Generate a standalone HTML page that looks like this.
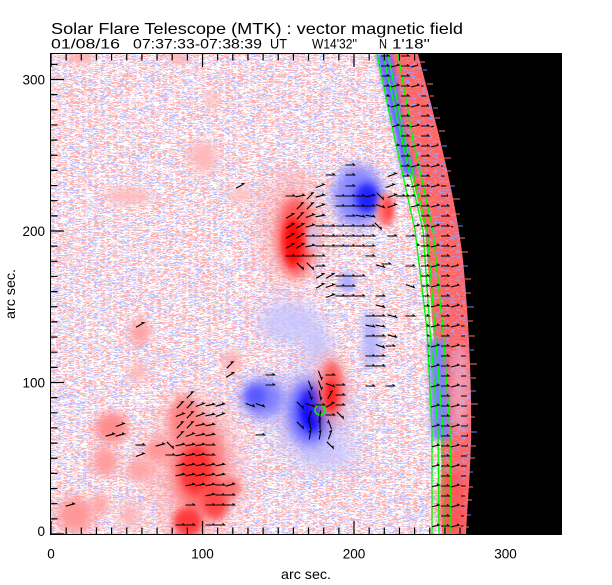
<!DOCTYPE html>
<html><head><meta charset="utf-8"><style>
html,body{margin:0;padding:0;background:#fff;}
svg{display:block;font-family:"Liberation Sans",sans-serif;}
</style></head><body>
<svg width="612" height="585" viewBox="0 0 612 585" xmlns="http://www.w3.org/2000/svg" xmlns:xlink="http://www.w3.org/1999/xlink">
<defs>
<filter id="spk" x="51" y="54" width="511" height="480" filterUnits="userSpaceOnUse" color-interpolation-filters="sRGB">
<feTurbulence type="fractalNoise" baseFrequency="0.16 0.85" numOctaves="2" seed="7"/>
<feColorMatrix type="matrix" values="1 0 0 0 0 1 0 0 0 0 1 0 0 0 0 0 0 0 0 1"/>
<feComponentTransfer>
<feFuncR type="discrete" tableValues="0.74 0.74 0.74 0.74 0.74 0.74 0.74 0.74 0.74 0.74 1 1 1 1 1 1 1 1 1 1 1 1 1 1 1"/>
<feFuncG type="discrete" tableValues="0.74 0.74 0.74 0.74 0.74 0.74 0.74 0.74 0.74 0.74 1 1 1 1 0.7 0.7 0.7 0.7 0.7 0.7 0.7 0.7 0.7 0.7 0.7"/>
<feFuncB type="discrete" tableValues="1 1 1 1 1 1 1 1 1 1 1 1 1 1 0.7 0.7 0.7 0.7 0.7 0.7 0.7 0.7 0.7 0.7 0.7"/>
</feComponentTransfer>
</filter>
<filter id="spkR" x="370" y="54" width="120" height="480" filterUnits="userSpaceOnUse" color-interpolation-filters="sRGB">
<feTurbulence type="fractalNoise" baseFrequency="0.18 0.8" numOctaves="2" seed="3"/>
<feColorMatrix type="matrix" values="1 0 0 0 0 1 0 0 0 0 1 0 0 0 0 0 0 0 0 1"/>
<feComponentTransfer>
<feFuncR type="discrete" tableValues="0.6 0.6 0.6 0.6 0.6 0.6 0.6 0.6 0.6 1 1 1 1 1 1 1 1 1 1 1 1 1 1 1 1"/>
<feFuncG type="discrete" tableValues="0.6 0.6 0.6 0.6 0.6 0.6 0.6 0.6 0.6 0.55 0.4 0.4 0.4 0.4 0.4 0.4 0.4 0.4 0.4 0.4 0.4 0.4 0.4 0.4 0.4"/>
<feFuncB type="discrete" tableValues="1 1 1 1 1 1 1 1 1 0.55 0.4 0.4 0.4 0.4 0.4 0.4 0.4 0.4 0.4 0.4 0.4 0.4 0.4 0.4 0.4"/>
</feComponentTransfer>
</filter>
<filter id="f2" x="-50%" y="-50%" width="200%" height="200%"><feGaussianBlur stdDeviation="2"/></filter>
<filter id="f3" x="-50%" y="-50%" width="200%" height="200%"><feGaussianBlur stdDeviation="3"/></filter>
<filter id="f4" x="-50%" y="-50%" width="200%" height="200%"><feGaussianBlur stdDeviation="4"/></filter>
<filter id="f5" x="-50%" y="-50%" width="200%" height="200%"><feGaussianBlur stdDeviation="5"/></filter>
<filter id="f6" x="-50%" y="-50%" width="200%" height="200%"><feGaussianBlur stdDeviation="6"/></filter>
<filter id="f8" x="-60%" y="-60%" width="220%" height="220%"><feGaussianBlur stdDeviation="8"/></filter>
<filter id="f12" x="-60%" y="-60%" width="220%" height="220%"><feGaussianBlur stdDeviation="12"/></filter>
<path id="a" d="M-4.5 0H4.5L2.6-1.6" fill="none" stroke="#000" stroke-width="1.1"/>
<pattern id="ap" width="20" height="20" patternUnits="userSpaceOnUse" x="0" y="1">
<path d="M1 5H9L7 3.4M11 6L19 4L17 2.8M1 15H9L7 13.4" fill="none" stroke="#000" stroke-width="1.1"/>
</pattern>
<clipPath id="limbclip"><polygon points="377,54 395,140 415,230 427,330 432,430 432,534 463,534 468,440 465,330 457,250 442,160 430,110 415,54"/></clipPath>
<clipPath id="bandclip"><polygon points="386,54 403,140 425,230 433,330 441,430 442,534 474,534 478,440 476,330 469,230 450,140 430,54"/></clipPath>
<clipPath id="plotclip"><rect x="51" y="54" width="511" height="480"/></clipPath>
</defs>

<rect x="51" y="54" width="511" height="480" fill="#fff"/>
<rect x="51" y="54" width="511" height="480" filter="url(#spk)"/>

<g clip-path="url(#plotclip)">
<ellipse cx="203" cy="157" rx="14" ry="16" fill="#ffb8b8" filter="url(#f6)"/>
<ellipse cx="212" cy="100" rx="6" ry="10" fill="#ffc0c0" filter="url(#f5)"/>
<ellipse cx="80" cy="57" rx="15" ry="6" fill="#ffb0b0" filter="url(#f4)"/>
<ellipse cx="178" cy="57" rx="9" ry="6" fill="#ffb0b0" filter="url(#f4)"/>
<ellipse cx="128" cy="196" rx="25" ry="7" fill="#ffbcbc" filter="url(#f5)"/>
<ellipse cx="240" cy="195" rx="10" ry="8" fill="#ffbcbc" filter="url(#f5)"/>

<ellipse cx="290" cy="322" rx="32" ry="22" fill="#c4c4ff" opacity=".8" filter="url(#f8)"/>
<ellipse cx="318" cy="345" rx="14" ry="18" fill="#c4c4ff" opacity=".8" filter="url(#f6)"/>
<ellipse cx="371" cy="340" rx="8" ry="28" fill="#b0b0ff" filter="url(#f5)"/>
<ellipse cx="347" cy="282" rx="8" ry="10" fill="#a8a8ff" filter="url(#f4)"/>
<ellipse cx="330" cy="455" rx="30" ry="15" fill="#c8c8ff" opacity=".7" filter="url(#f8)"/>
<ellipse cx="195" cy="503" rx="5" ry="6" fill="#a0a0ff" filter="url(#f3)"/>
<ellipse cx="310" cy="415" rx="40" ry="50" fill="#b8b8ff" opacity=".6" filter="url(#f12)"/>
<ellipse cx="310" cy="412" rx="22" ry="33" fill="#6868ff" filter="url(#f6)"/>
<ellipse cx="312" cy="410" rx="12" ry="22" fill="#0000ff" filter="url(#f4)"/>
<ellipse cx="262" cy="398" rx="22" ry="20" fill="#8080ff" filter="url(#f6)"/>
<ellipse cx="256" cy="396" rx="10" ry="10" fill="#5858ff" filter="url(#f4)"/>
<ellipse cx="358" cy="196" rx="25" ry="31" fill="#8888ff" filter="url(#f6)"/>
<ellipse cx="367" cy="198" rx="12" ry="15" fill="#2020ff" filter="url(#f4)"/>

<ellipse cx="290" cy="228" rx="30" ry="58" fill="#ff9a9a" opacity=".55" filter="url(#f12)"/>
<ellipse cx="296" cy="237" rx="19" ry="40" fill="#ff5a5a" filter="url(#f5)"/>
<ellipse cx="293" cy="242" rx="10" ry="24" fill="#ff1010" filter="url(#f3)"/>
<ellipse cx="313" cy="238" rx="6" ry="14" fill="#d4d4ff" opacity=".8" filter="url(#f3)"/>
<ellipse cx="330" cy="390" rx="18" ry="38" fill="#ffa0a0" opacity=".6" filter="url(#f8)"/>
<ellipse cx="332" cy="388" rx="11" ry="27" fill="#ff6060" filter="url(#f4)"/>
<ellipse cx="331" cy="396" rx="6" ry="16" fill="#ff2020" filter="url(#f3)"/>
<ellipse cx="386" cy="210" rx="9" ry="17" fill="#ff7070" filter="url(#f3)"/>
<ellipse cx="388" cy="210" rx="4" ry="9" fill="#ff4a4a" filter="url(#f2)"/>

<ellipse cx="195" cy="468" rx="48" ry="75" fill="#ffa8a8" opacity=".55" filter="url(#f12)"/>
<ellipse cx="198" cy="465" rx="27" ry="48" fill="#ff7070" opacity=".9" filter="url(#f6)"/>
<ellipse cx="196" cy="470" rx="16" ry="25" fill="#ff3030" filter="url(#f4)"/>
<ellipse cx="215" cy="500" rx="14" ry="20" fill="#ff4a4a" filter="url(#f4)"/>
<ellipse cx="188" cy="522" rx="15" ry="15" fill="#ff3a3a" filter="url(#f4)"/>
<ellipse cx="185" cy="420" rx="16" ry="24" fill="#ff8080" filter="url(#f5)"/>
<ellipse cx="230" cy="488" rx="11" ry="11" fill="#ff7070" filter="url(#f4)"/>
<ellipse cx="112" cy="428" rx="17" ry="16" fill="#ff8c8c" filter="url(#f5)"/>
<ellipse cx="105" cy="462" rx="13" ry="15" fill="#ff9c9c" filter="url(#f5)"/>
<ellipse cx="140" cy="470" rx="15" ry="11" fill="#ffa4a4" filter="url(#f5)"/>
<ellipse cx="160" cy="450" rx="16" ry="11" fill="#ff9494" filter="url(#f5)"/>
<ellipse cx="75" cy="515" rx="19" ry="19" fill="#ff9696" filter="url(#f6)"/>
<ellipse cx="100" cy="505" rx="9" ry="11" fill="#ffa4a4" filter="url(#f5)"/>
<ellipse cx="140" cy="332" rx="11" ry="12" fill="#ffa0a0" filter="url(#f5)"/>
<ellipse cx="138" cy="372" rx="8" ry="10" fill="#ffb4b4" filter="url(#f5)"/>
<ellipse cx="232" cy="362" rx="9" ry="12" fill="#ffb0b0" filter="url(#f5)"/>
<ellipse cx="130" cy="515" rx="10" ry="12" fill="#ffb0b0" filter="url(#f6)"/>

<rect x="370" y="54" width="120" height="480" filter="url(#spkR)" clip-path="url(#bandclip)"/>
<ellipse cx="452" cy="505" rx="15" ry="33" fill="#ff5050" opacity=".7" filter="url(#f4)"/>
<ellipse cx="460" cy="390" rx="9" ry="45" fill="#e6c4f0" opacity=".5" filter="url(#f4)"/>
<polygon points="376,54 396,140 403,175 416,175 406,140 392,54" fill="#6a6aff" filter="url(#f2)"/>
<polygon points="428,340 432,440 450,440 444,340" fill="#8080ff" filter="url(#f3)"/>

<path d="M418 54C430 100 455 190 463 260C468 310 472 380 471 440C470 480 467 510 466 534L562 534L562 54Z" fill="#000"/>
<path d="M420 62h5M430 96h4M435 118h5M439 131h6M444 158h7M447 171h4M453 199h7M455 214h5M459 238h6M461 252h7M465 279h6M466 293h5M468 321h5M469 336h6M470 364h7M471 378h5M471 404h7M471 417h4M471 446h5M470 458h5M468 487h5M468 500h4M466 527h3M427 84h6" stroke="#ff7070" stroke-width="1"/>
<path d="M423 70h4M433 108h5M442 146h5M450 186h5M457 226h6M463 266h5M467 307h7M470 350h4M471 391h5M471 432h6M469 472h4M467 515h4" stroke="#7a7aff" stroke-width="1"/>

<g fill="none" stroke="#00ff00" stroke-width="1.4">
<polyline points="377,54 395,140 415,230 427,330 432,430 432,534"/>
<polyline points="383,54 402,140 423,230 430,330 438,430 439,534"/>
<polyline points="388,54 405,140 427,230 435,330 443,430 444,534"/>
<polyline points="398,54 413,140 433,230 443,330 450,430 451,534"/>
<circle cx="320" cy="410" r="5"/>
</g>

<rect x="370" y="54" width="110" height="480" fill="url(#ap)" clip-path="url(#limbclip)"/>

<g>
<use href="#a" x="350" y="165"/>
<use href="#a" x="330" y="175"/><use href="#a" x="350" y="175"/><use href="#a" transform="translate(392 175)rotate(-20)"/>
<use href="#a" transform="translate(240 186)rotate(-30)"/><use href="#a" transform="translate(320 186)rotate(-20)"/><use href="#a" x="350" y="186"/><use href="#a" transform="translate(390 186)rotate(-20)"/>
<use href="#a" x="290" y="196"/><use href="#a" transform="translate(300 196)rotate(-10)"/><use href="#a" transform="translate(310 196)rotate(-45)"/><use href="#a" transform="translate(320 196)rotate(-15)"/><use href="#a" x="340" y="196"/><use href="#a" x="350" y="196"/><use href="#a" x="360" y="196"/><use href="#a" transform="translate(370 196)rotate(-10)"/><use href="#a" transform="translate(380 196)rotate(45)"/><use href="#a" transform="translate(392 196)rotate(-20)"/><use href="#a" x="400" y="196"/><use href="#a" x="410" y="196"/>
<use href="#a" transform="translate(300 206)rotate(-45)"/><use href="#a" transform="translate(310 206)rotate(-45)"/><use href="#a" transform="translate(320 206)rotate(-20)"/><use href="#a" x="340" y="206"/><use href="#a" x="350" y="206"/><use href="#a" x="360" y="206"/><use href="#a" x="370" y="206"/><use href="#a" transform="translate(380 206)rotate(20)"/><use href="#a" transform="translate(392 206)rotate(-20)"/>
<use href="#a" transform="translate(290 216)rotate(-30)"/><use href="#a" transform="translate(300 216)rotate(-45)"/><use href="#a" transform="translate(310 216)rotate(-20)"/><use href="#a" transform="translate(320 216)rotate(-10)"/><use href="#a" x="350" y="216"/><use href="#a" transform="translate(360 216)rotate(10)"/><use href="#a" transform="translate(370 216)rotate(10)"/>
<use href="#a" transform="translate(290 226)rotate(-30)"/><use href="#a" transform="translate(300 226)rotate(-30)"/><use href="#a" transform="translate(310 226)rotate(-15)"/><use href="#a" x="320" y="226"/><use href="#a" x="330" y="226"/><use href="#a" x="340" y="226"/><use href="#a" x="350" y="226"/><use href="#a" x="360" y="226"/><use href="#a" x="370" y="226"/><use href="#a" transform="translate(378 226)rotate(45)"/>
<use href="#a" transform="translate(290 236)rotate(-30)"/><use href="#a" transform="translate(300 236)rotate(-30)"/><use href="#a" x="310" y="236"/><use href="#a" x="320" y="236"/><use href="#a" x="330" y="236"/><use href="#a" x="340" y="236"/><use href="#a" x="350" y="236"/><use href="#a" x="360" y="236"/><use href="#a" x="370" y="236"/><use href="#a" x="392" y="236"/><use href="#a" x="410" y="236"/>
<use href="#a" transform="translate(290 246)rotate(-30)"/><use href="#a" transform="translate(300 246)rotate(-30)"/><use href="#a" transform="translate(310 246)rotate(-10)"/><use href="#a" x="320" y="246"/><use href="#a" x="330" y="246"/><use href="#a" x="340" y="246"/><use href="#a" x="350" y="246"/><use href="#a" x="360" y="246"/><use href="#a" x="370" y="246"/>
<use href="#a" x="290" y="256"/><use href="#a" x="300" y="256"/><use href="#a" x="310" y="256"/><use href="#a" x="320" y="256"/><use href="#a" x="370" y="256"/>
<use href="#a" transform="translate(300 266)rotate(45)"/><use href="#a" transform="translate(310 266)rotate(45)"/><use href="#a" x="320" y="266"/><use href="#a" transform="translate(380 266)rotate(15)"/><use href="#a" x="410" y="266"/><use href="#a" x="386" y="264"/>
<use href="#a" transform="translate(320 276)rotate(-30)"/><use href="#a" transform="translate(330 276)rotate(-30)"/><use href="#a" x="340" y="276"/><use href="#a" x="350" y="276"/><use href="#a" x="360" y="276"/>
<use href="#a" transform="translate(320 286)rotate(-30)"/><use href="#a" transform="translate(330 286)rotate(-20)"/><use href="#a" x="340" y="286"/><use href="#a" x="350" y="286"/><use href="#a" transform="translate(410 286)rotate(20)"/>
<use href="#a" transform="translate(330 296)rotate(-20)"/><use href="#a" x="340" y="296"/><use href="#a" x="350" y="296"/><use href="#a" x="360" y="296"/><use href="#a" x="380" y="296"/>
<use href="#a" transform="translate(380 306)rotate(15)"/>
<use href="#a" x="370" y="316"/><use href="#a" x="380" y="316"/><use href="#a" transform="translate(392 316)rotate(15)"/><use href="#a" x="410" y="316"/>
<use href="#a" transform="translate(370 326)rotate(10)"/><use href="#a" transform="translate(380 326)rotate(10)"/>
<use href="#a" x="370" y="336"/><use href="#a" x="380" y="336"/><use href="#a" transform="translate(392 336)rotate(15)"/>
<use href="#a" transform="translate(380 346)rotate(20)"/><use href="#a" x="390" y="346"/>
<use href="#a" x="370" y="356"/><use href="#a" x="380" y="356"/>
<use href="#a" x="370" y="366"/><use href="#a" x="380" y="366"/>
<use href="#a" x="370" y="386"/><use href="#a" x="390" y="386"/>
<use href="#a" x="270" y="375"/><use href="#a" transform="translate(320 375)rotate(70)"/><use href="#a" x="330" y="375"/>
<use href="#a" x="270" y="385"/><use href="#a" transform="translate(310 385)rotate(70)"/><use href="#a" transform="translate(320 385)rotate(70)"/><use href="#a" transform="translate(330 385)rotate(20)"/><use href="#a" x="340" y="385"/>
<use href="#a" transform="translate(310 395)rotate(70)"/><use href="#a" transform="translate(320 395)rotate(80)"/><use href="#a" transform="translate(330 395)rotate(-60)"/><use href="#a" x="340" y="395"/>
<use href="#a" transform="translate(250 405)rotate(20)"/><use href="#a" transform="translate(260 405)rotate(20)"/><use href="#a" transform="translate(300 405)rotate(45)"/><use href="#a" transform="translate(310 405)rotate(20)"/><use href="#a" x="320" y="405"/><use href="#a" transform="translate(330 405)rotate(-30)"/><use href="#a" x="340" y="405"/>
<use href="#a" transform="translate(310 415)rotate(110)"/><use href="#a" transform="translate(320 415)rotate(100)"/><use href="#a" x="330" y="415"/><use href="#a" transform="translate(340 415)rotate(45)"/>
<use href="#a" transform="translate(300 425)rotate(45)"/><use href="#a" transform="translate(310 425)rotate(-100)"/><use href="#a" transform="translate(320 425)rotate(-90)"/><use href="#a" transform="translate(330 425)rotate(-110)"/>
<use href="#a" x="260" y="435"/><use href="#a" transform="translate(310 435)rotate(-80)"/><use href="#a" transform="translate(320 435)rotate(-80)"/><use href="#a" transform="translate(330 435)rotate(-70)"/>
<use href="#a" transform="translate(330 445)rotate(45)"/>

<use href="#a" transform="translate(140 325)rotate(-30)"/>
<use href="#a" transform="translate(230 365)rotate(-45)"/><use href="#a" transform="translate(230 375)rotate(-30)"/>
<use href="#a" transform="translate(190 395)rotate(-45)"/>
<use href="#a" transform="translate(180 405)rotate(-45)"/><use href="#a" transform="translate(190 405)rotate(-45)"/><use href="#a" transform="translate(200 405)rotate(-20)"/><use href="#a" transform="translate(210 405)rotate(-10)"/><use href="#a" transform="translate(220 405)rotate(-15)"/>
<use href="#a" transform="translate(180 415)rotate(-20)"/><use href="#a" transform="translate(190 415)rotate(-45)"/><use href="#a" transform="translate(200 415)rotate(-20)"/><use href="#a" transform="translate(210 415)rotate(-10)"/><use href="#a" transform="translate(220 415)rotate(-20)"/>
<use href="#a" transform="translate(120 425)rotate(-20)"/><use href="#a" transform="translate(180 425)rotate(-45)"/><use href="#a" transform="translate(190 425)rotate(-45)"/><use href="#a" transform="translate(200 425)rotate(-10)"/><use href="#a" transform="translate(210 425)rotate(-10)"/>
<use href="#a" transform="translate(110 435)rotate(-15)"/><use href="#a" transform="translate(120 435)rotate(-15)"/><use href="#a" transform="translate(180 435)rotate(-45)"/><use href="#a" transform="translate(190 435)rotate(-20)"/><use href="#a" transform="translate(200 435)rotate(-10)"/><use href="#a" transform="translate(210 435)rotate(-10)"/>
<use href="#a" x="140" y="445"/><use href="#a" transform="translate(160 445)rotate(-15)"/><use href="#a" transform="translate(170 445)rotate(45)"/><use href="#a" transform="translate(180 445)rotate(-10)"/><use href="#a" transform="translate(190 445)rotate(-10)"/><use href="#a" transform="translate(200 445)rotate(-10)"/><use href="#a" x="210" y="445"/>
<use href="#a" transform="translate(140 455)rotate(-20)"/><use href="#a" x="170" y="455"/><use href="#a" transform="translate(180 455)rotate(-10)"/><use href="#a" transform="translate(190 455)rotate(-10)"/><use href="#a" transform="translate(200 455)rotate(-10)"/><use href="#a" x="210" y="455"/>
<use href="#a" transform="translate(180 465)rotate(-10)"/><use href="#a" transform="translate(190 465)rotate(-10)"/><use href="#a" transform="translate(200 465)rotate(-10)"/><use href="#a" transform="translate(210 465)rotate(-10)"/><use href="#a" transform="translate(220 465)rotate(-10)"/>
<use href="#a" transform="translate(180 475)rotate(-10)"/><use href="#a" transform="translate(190 475)rotate(-10)"/><use href="#a" transform="translate(200 475)rotate(-10)"/><use href="#a" transform="translate(210 475)rotate(-10)"/><use href="#a" transform="translate(220 475)rotate(-10)"/>
<use href="#a" transform="translate(190 485)rotate(-10)"/><use href="#a" transform="translate(200 485)rotate(-10)"/><use href="#a" transform="translate(210 485)rotate(-10)"/><use href="#a" x="220" y="485"/><use href="#a" transform="translate(230 485)rotate(-15)"/>
<use href="#a" transform="translate(210 495)rotate(-10)"/><use href="#a" x="220" y="495"/><use href="#a" x="230" y="495"/>
<use href="#a" transform="translate(70 505)rotate(-15)"/><use href="#a" x="190" y="505"/><use href="#a" x="210" y="505"/><use href="#a" x="220" y="505"/><use href="#a" x="230" y="505"/>
<use href="#a" x="180" y="525"/><use href="#a" x="190" y="525"/><use href="#a" x="210" y="525"/><use href="#a" x="220" y="525"/>
</g>
</g>

<rect x="50.5" y="53.5" width="511" height="481" fill="none" stroke="#000" stroke-width="1"/>
<path fill="none" stroke="#000" stroke-width="1.2" d="
M51 534v-13M66.15 534v-6.5M81.3 534v-6.5M96.45 534v-6.5M111.6 534v-6.5M126.75 534v-6.5M141.9 534v-6.5M157.05 534v-6.5M172.2 534v-6.5M187.35 534v-6.5M202.5 534v-13M217.65 534v-6.5M232.8 534v-6.5M247.95 534v-6.5M263.1 534v-6.5M278.25 534v-6.5M293.4 534v-6.5M308.55 534v-6.5M323.7 534v-6.5M338.85 534v-6.5M354 534v-13M369.15 534v-6.5M384.3 534v-6.5M399.45 534v-6.5M414.6 534v-6.5M429.75 534v-6.5M444.9 534v-6.5M460.05 534v-6.5
M51 54v13M66.15 54v6.5M81.3 54v6.5M96.45 54v6.5M111.6 54v6.5M126.75 54v6.5M141.9 54v6.5M157.05 54v6.5M172.2 54v6.5M187.35 54v6.5M202.5 54v13M217.65 54v6.5M232.8 54v6.5M247.95 54v6.5M263.1 54v6.5M278.25 54v6.5M293.4 54v6.5M308.55 54v6.5M323.7 54v6.5M338.85 54v6.5M354 54v13M369.15 54v6.5M384.3 54v6.5M399.45 54v6.5M414.6 54v6.5
M51 534h13M51 518.85h6.5M51 503.7h6.5M51 488.55h6.5M51 473.4h6.5M51 458.25h6.5M51 443.1h6.5M51 427.95h6.5M51 412.8h6.5M51 397.65h6.5M51 382.5h13M51 367.35h6.5M51 352.2h6.5M51 337.05h6.5M51 321.9h6.5M51 306.75h6.5M51 291.6h6.5M51 276.45h6.5M51 261.3h6.5M51 246.15h6.5M51 231h13M51 215.85h6.5M51 200.7h6.5M51 185.55h6.5M51 170.4h6.5M51 155.25h6.5M51 140.1h6.5M51 124.95h6.5M51 109.8h6.5M51 94.65h6.5M51 79.5h13M51 64.35h6.5"/>

<text x="51" y="34" font-size="16" textLength="412" lengthAdjust="spacingAndGlyphs" fill="#000">Solar Flare Telescope (MTK) : vector magnetic field</text>
<g font-size="13.5" fill="#000">
<text x="51" y="48.5" textLength="69" lengthAdjust="spacingAndGlyphs">01/08/16</text>
<text x="133" y="48.5" textLength="129" lengthAdjust="spacingAndGlyphs">07:37:33-07:38:39</text>
<text x="270" y="48.5" textLength="17" lengthAdjust="spacingAndGlyphs">UT</text>
<text x="312" y="48.5" textLength="45" lengthAdjust="spacingAndGlyphs">W14'32''</text>
<text x="379" y="48.5" textLength="8" lengthAdjust="spacingAndGlyphs">N</text>
<text x="392" y="48.5" textLength="38" lengthAdjust="spacingAndGlyphs">1'18''</text>
</g>

<g font-size="13.5" fill="#000" text-anchor="end">
<text x="45" y="84.5">300</text>
<text x="45" y="236">200</text>
<text x="45" y="387.5">100</text>
<text x="45" y="536">0</text>
</g>
<g font-size="13.5" fill="#000" text-anchor="middle">
<text x="51" y="558.5">0</text>
<text x="202.5" y="558.5">100</text>
<text x="354" y="558.5">200</text>
<text x="505.5" y="558.5">300</text>
</g>
<text x="281" y="579" font-size="14" textLength="50" lengthAdjust="spacingAndGlyphs" fill="#000">arc sec.</text>
<text transform="translate(15 294) rotate(-90)" x="-25" y="0" font-size="14" textLength="50" lengthAdjust="spacingAndGlyphs" fill="#000">arc sec.</text>
</svg>
</body></html>
